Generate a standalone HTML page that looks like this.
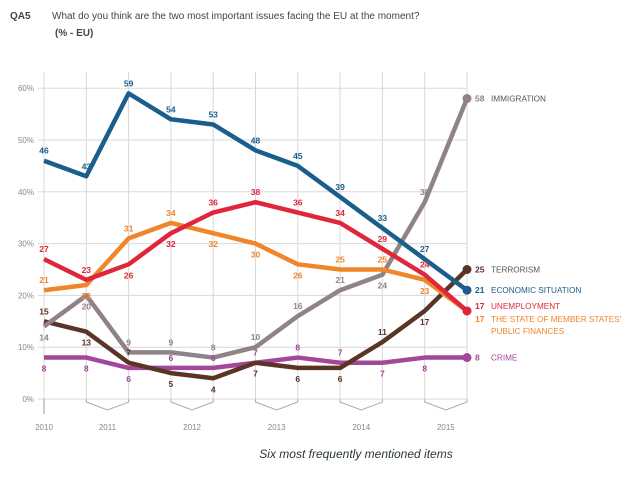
<!DOCTYPE html>
<html><head><meta charset="utf-8"><style>
body{margin:0;background:#fff;font-family:"Liberation Sans",sans-serif}
svg text{font-family:"Liberation Sans",sans-serif}
</style></head><body>
<svg id="c" width="625" height="478">
<text x="10" y="19" font-size="10" font-weight="bold" fill="#444">QA5</text>
<text x="52" y="19" font-size="10" fill="#444">What do you think are the two most important issues facing the EU at the moment?</text>
<text x="55" y="36" font-size="10" font-weight="bold" fill="#444">(% - EU)</text>
<text x="356" y="458" font-size="12" font-style="italic" fill="#2a3a2a" text-anchor="middle">Six most frequently mentioned items</text>
<g id="grid"></g><g id="axis"></g><g id="lines"></g><g id="labels"></g>
</svg>
<script>
const periods = 11;
const yTicks = [0,10,20,30,40,50,60];
const years = ["2010","2011","2012","2013","2014","2015"];
const economic = [46,43,59,54,53,48,45,39,33,27,21];
const unemployment = [27,23,26,32,36,38,36,34,29,24,17];
const finances = [21,22,31,34,32,30,26,25,25,23,17];
const immigration = [14,20,9,9,8,10,16,21,24,38,58];
const terrorism = [15,13,7,5,4,7,6,6,11,17,25];
const crime = [8,8,6,6,6,7,8,7,7,8,8];
const NS="http://www.w3.org/2000/svg";
const x0=44, dx=42.3, y0=399, ppu=5.18;
const X=i=>x0+i*dx, Y=v=>y0-v*ppu;
function mk(t,a,p){const e=document.createElementNS(NS,t);for(const k in a)e.setAttribute(k,a[k]);p.appendChild(e);return e;}
const grid=document.getElementById('grid'),axis=document.getElementById('axis'),lines=document.getElementById('lines'),labels=document.getElementById('labels');
for(let i=0;i<periods;i++){const l=mk('line',{x1:X(i),x2:X(i),y1:72,y2:y0,stroke:'#d8d8d8','stroke-width':1},grid);

}
yTicks.forEach(v=>{const l=mk('line',{x1:38,x2:X(periods-1),y1:Y(v),y2:Y(v),stroke:'#d8d8d8','stroke-width':1},grid);


const t=mk('text',{x:34,y:Y(v)+3,'font-size':8,fill:'#888','text-anchor':'end'},axis);t.textContent=v+'%';

});
years.forEach((yr,k)=>{let cx;
if(k===0){cx=X(0);const l=mk('line',{x1:cx,x2:cx,y1:y0,y2:414,stroke:'#999','stroke-width':1},axis);

}
else{const a=X(2*k-1),b=X(2*k);cx=(a+b)/2;const p=mk('polyline',{points:`${a},${y0} ${a},${y0+3} ${cx},${y0+11} ${b},${y0+3} ${b},${y0}`,fill:'none',stroke:'#aaa','stroke-width':1},axis);

}
const t=mk('text',{x:cx,y:430,'font-size':8,fill:'#888','text-anchor':'middle'},axis);t.textContent=yr;

});
const series=[
{name:'crime',data:crime,color:'#a3479a',lab:'CRIME',pos:[1,1,1,-1,-1,-1,-1,-1,1,1],ly:0},
{name:'terrorism',data:terrorism,color:'#5a3424',lab:'TERRORISM',pos:[-1,1,-1,1,1,1,1,1,-1,1],ly:0},
{name:'immigration',data:immigration,color:'#8f8387',lab:'IMMIGRATION',pos:[1,1,-1,-1,-1,-1,-1,-1,1,-1],ly:0},
{name:'finances',data:finances,color:'#f0862a',lab:"THE STATE OF MEMBER STATES'",lab2:'PUBLIC FINANCES',pos:[-1,1,-1,-1,1,1,1,-1,-1,1],ly:8},
{name:'unemployment',data:unemployment,color:'#e0263a',lab:'UNEMPLOYMENT',pos:[-1,-1,1,1,-1,-1,-1,-1,-1,-1],ly:-5},
{name:'economic',data:economic,color:'#1a5f8c',lab:'ECONOMIC SITUATION',pos:[-1,-1,-1,-1,-1,-1,-1,-1,-1,-1],ly:0}];
series.forEach(s=>{const pts=s.data.map((v,i)=>X(i)+','+Y(v)).join(' ');
const pl=mk('polyline',{points:pts,fill:'none',stroke:s.color,'stroke-width':4.5,'stroke-linejoin':'round'},lines);


const n=s.data.length-1;
const d=mk('circle',{cx:X(n),cy:Y(s.data[n]),r:4.5,fill:s.color},lines);


s.data.slice(0,n).forEach((v,i)=>{const dy=s.pos[i]<0?-7:14;
const t=mk('text',{x:X(i),y:Y(v)+dy,'font-size':8.5,'font-weight':'bold',fill:s.color,'text-anchor':'middle'},labels);t.textContent=v;

});
const ey=Y(s.data[n])+3+s.ly;
const t=mk('text',{x:X(n)+8,y:ey,'font-size':8.5,fill:s.color,'font-weight':'bold'},labels);t.textContent=s.data[n];


const t2=mk('text',{x:X(n)+24,y:ey,'font-size':8.2,fill:s.name==='immigration'||s.name==='terrorism'?'#555':s.color},labels);t2.textContent=s.lab;


if(s.lab2){const t3=mk('text',{x:X(n)+24,y:ey+12,'font-size':8.2,fill:s.color},labels);t3.textContent=s.lab2;

}
});
</script>
</body></html>
